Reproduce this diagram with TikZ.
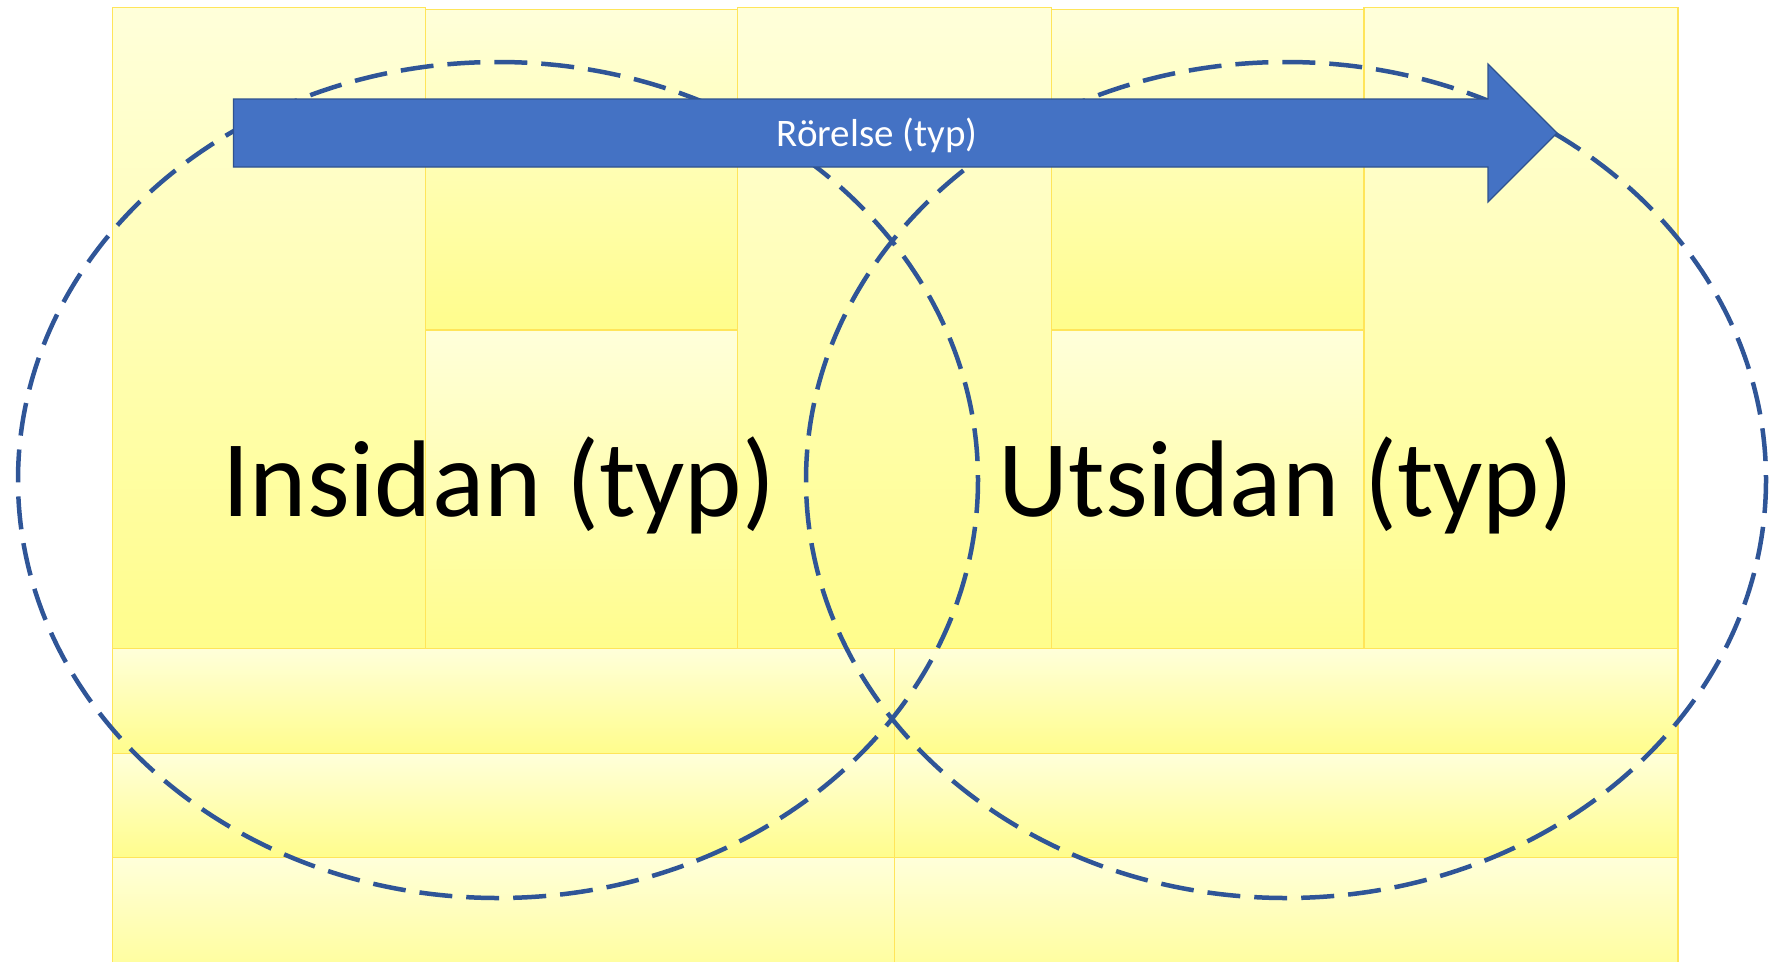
\documentclass[tikz,border=0pt]{standalone}
\usepackage{fontspec}
\setmainfont{Carlito}
\usepackage{tikz}

\definecolor{paleyel}{RGB}{255,255,218}
\definecolor{deepyel}{RGB}{255,253,140}
\definecolor{edgeyel}{RGB}{255,229,90}
\definecolor{ringblue}{RGB}{47,85,151}
\definecolor{arrowblue}{RGB}{68,114,196}
\definecolor{arrowedge}{RGB}{47,82,143}

\tikzset{
    plank/.style={top color=paleyel, bottom color=deepyel, draw=edgeyel, line width=1.2pt},
    ring/.style={draw=ringblue, line width=4.5pt, dash pattern=on 33pt off 14pt},
    big/.style={font=\fontsize{109}{130}\selectfont, anchor=base},
}

\begin{document}
\begin{tikzpicture}[x=1pt,y=-1pt]
    \useasboundingbox (0,0) rectangle (1769,961);
    \clip (0,0) rectangle (1769,961);

    \shade[plank] (112.8,7.5) rectangle (425.3,648.6);
    \shade[plank] (425.3,9.5) rectangle (737.8,330);
    \shade[plank] (425.3,330) rectangle (737.8,648.6);
    \shade[plank] (737.8,7.5) rectangle (1051.5,648.6);
    \shade[plank] (1051.5,9.5) rectangle (1364,330);
    \shade[plank] (1051.5,330) rectangle (1364,648.6);
    \shade[plank] (1364,7.5) rectangle (1678,648.6);

    \shade[plank] (112.8,648.6) rectangle (894.7,753.6);
    \shade[plank] (894.7,648.6) rectangle (1678,753.6);
    \shade[plank] (112.8,753.6) rectangle (894.7,857.7);
    \shade[plank] (894.7,753.6) rectangle (1678,857.7);
    \shade[plank] (112.8,857.7) rectangle (894.7,1000);
    \shade[plank] (894.7,857.7) rectangle (1678,1000);

    \draw[ring] (498,480) ellipse [x radius=480, y radius=418];
    \draw[ring] (1286,480) ellipse [x radius=480, y radius=418];

    \draw[fill=arrowblue, draw=arrowedge, line width=1.2pt]
        (233.5,99) -- (1488,99) -- (1488,64) -- (1557,133)
        -- (1488,202) -- (1488,167) -- (233.5,167) -- cycle;

    \node[text=white, font=\fontsize{39}{47}\selectfont, anchor=base] (rorelse) at (877,146) {Rörelse (typ)};
    \node[big] (insidan) at (499,516.7) {Insidan (typ)};
    \node[big] (utsidan) at (1286,516.7) {Utsidan (typ)};
\end{tikzpicture}
\end{document}
